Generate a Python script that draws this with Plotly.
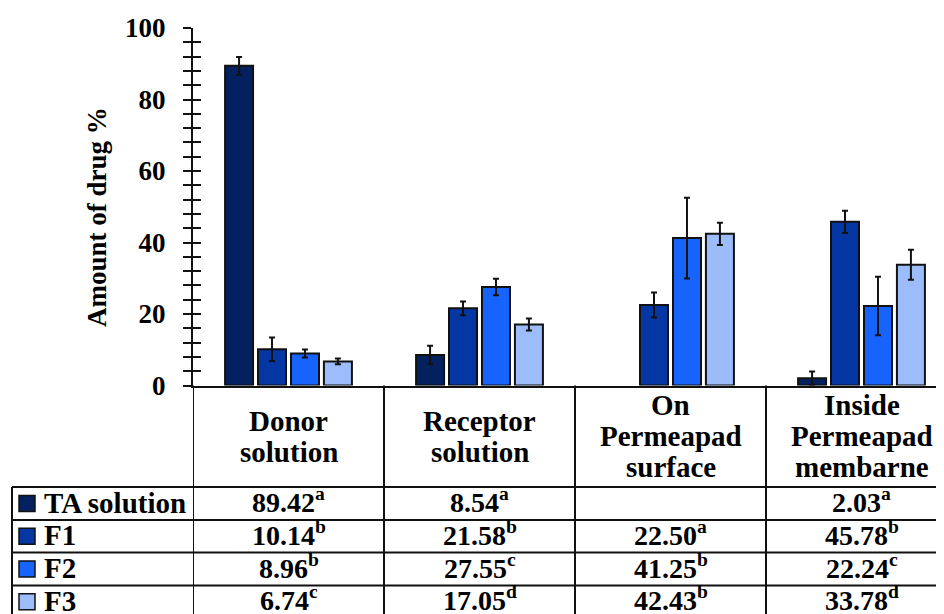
import plotly.graph_objects as go

# ---------------- data ----------------
categories = ["Donor solution", "Receptor solution", "On Permeapad surface", "Inside Permeapad membarne"]
header_lines = [["Donor", "solution"], ["Receptor", "solution"],
                ["On", "Permeapad", "surface"], ["Inside", "Permeapad", "membarne"]]
series_names = ["TA solution", "F1", "F2", "F3"]

ta_values = [89.42, 8.54, None, 2.03]
f1_values = [10.14, 21.58, 22.50, 45.78]
f2_values = [8.96, 27.55, 41.25, 22.24]
f3_values = [6.74, 17.05, 42.43, 33.78]

ta_err = [2.5, 2.6, 0, 1.9]
f1_err = [3.3, 1.9, 3.5, 3.1]
f2_err = [1.1, 2.3, 11.3, 8.2]
f3_err = [0.8, 1.7, 3.1, 4.2]

ta_letters = ["a", "a", "", "a"]
f1_letters = ["b", "b", "a", "b"]
f2_letters = ["b", "c", "b", "c"]
f3_letters = ["c", "d", "b", "d"]

colors = ["#03205f", "#0436a4", "#1764fd", "#9dbcfc"]

y_ticks = [0, 20, 40, 60, 80, 100]

# ---------------- layout constants ----------------
OFF = 8                      # page body margin of the html page
W, H = 944 - OFF, 614 - OFF
FONT = "Liberation Serif, Times New Roman, serif"

def px_x(p):
    return (p - OFF) / W

def px_y(p):
    return 1 - (p - OFF) / H

x_left = 193
x_domain = [px_x(x_left), 1.0]
cat_w = 191.0
x_range = [-0.5, -0.5 + (944 - x_left) / cat_w]
y_domain = [px_y(385.5), px_y(28)]

series_vals = [ta_values, f1_values, f2_values, f3_values]
series_errs = [ta_err, f1_err, f2_err, f3_err]
series_lets = [ta_letters, f1_letters, f2_letters, f3_letters]

fig = go.Figure()
xs = list(range(len(categories)))
for name, vals, errs, col in zip(series_names, series_vals, series_errs, colors):
    fig.add_trace(go.Bar(
        x=xs, y=vals, name=name,
        marker=dict(color=col, line=dict(color="#111111", width=2)),
        error_y=dict(type="data", array=errs, visible=True,
                     color="#111111", thickness=2, width=3),
        showlegend=False,
    ))

# invisible trace anchoring a second y axis that draws the inside half of the ticks
fig.add_trace(go.Scatter(x=[0], y=[0], yaxis="y2", mode="markers",
                         marker=dict(opacity=0), showlegend=False, hoverinfo="skip"))

def bfont(size):
    return dict(family=FONT, size=size, color="black", weight="bold")

tickfont = bfont(27)
header_font = bfont(29)
legend_font = bfont(29)
cell_font = bfont(28)

fig.update_layout(
    width=W, height=H,
    margin=dict(l=0, r=0, t=0, b=0, autoexpand=False),
    paper_bgcolor="white", plot_bgcolor="white",
    font=dict(family=FONT),
    barmode="group", bargap=0.31, bargroupgap=0.15,
    xaxis=dict(domain=x_domain, range=x_range, showticklabels=False, ticks="",
               showgrid=False, zeroline=False, showline=True, automargin=False,
               linecolor="#111111", linewidth=2, fixedrange=True),
    yaxis=dict(domain=y_domain, range=[0, 100], tickvals=y_ticks,
               ticks="outside", ticklen=8, tickwidth=2, tickcolor="#111111",
               minor=dict(dtick=4, ticks="outside", ticklen=8, tickwidth=2, tickcolor="#111111"),
               showgrid=False, zeroline=False, showline=True, automargin=False,
               linecolor="#111111", linewidth=2, tickfont=tickfont,
               ticklabelstandoff=12, anchor="x"),
    yaxis2=dict(domain=y_domain, range=[0, 100], overlaying="y", anchor="x",
                side="left", tickvals=y_ticks, showticklabels=False, automargin=False,
                ticks="inside", ticklen=8, tickwidth=2, tickcolor="#111111",
                minor=dict(dtick=4, ticks="inside", ticklen=8, tickwidth=2, tickcolor="#111111"),
                showgrid=False, zeroline=False, showline=False),
)

annotations = []
shapes = []
line = dict(color="#111111", width=2)

# y-axis title
annotations.append(dict(text="Amount of drug %", xref="paper", yref="paper",
                        x=px_x(97), y=px_y(217), textangle=-90, showarrow=False,
                        font=tickfont, xanchor="center", yanchor="middle"))

# table geometry (pixels in the 944x614 picture)
header_top = 385.5
row_lines = [487, 520, 552.5, 585.5, 618]
row_centers = [(row_lines[i] + row_lines[i + 1]) / 2 for i in range(4)]
legend_left = 12

# vertical lines at category boundaries
for b in [-0.5, 0.5, 1.5, 2.5, 3.5]:
    shapes.append(dict(type="line", xref="x", yref="paper", x0=b, x1=b,
                       y0=px_y(header_top), y1=px_y(625), line=line))
# legend column left border
shapes.append(dict(type="line", xref="paper", yref="paper", x0=px_x(legend_left), x1=px_x(legend_left),
                   y0=px_y(row_lines[0]), y1=px_y(625), line=line))
# horizontal row lines
for r in row_lines:
    shapes.append(dict(type="line", xref="paper", yref="paper", x0=px_x(legend_left), x1=1.0,
                       y0=px_y(r), y1=px_y(r), line=line))

# header text (category names)
for ci, lines in enumerate(header_lines):
    n = len(lines)
    center = (header_top + row_lines[0]) / 2
    for li, t in enumerate(lines):
        yp = center + (li - (n - 1) / 2) * 31
        annotations.append(dict(text=t, xref="x", yref="paper", x=ci, y=px_y(yp),
                                showarrow=False, font=header_font,
                                xanchor="center", yanchor="middle"))

# legend column + data cells
for ri, (name, vals, lets, col) in enumerate(zip(series_names, series_vals, series_lets, colors)):
    yc = row_centers[ri]
    shapes.append(dict(type="rect", xref="paper", yref="paper",
                       x0=px_x(19), x1=px_x(35), y0=px_y(yc + 8), y1=px_y(yc - 8),
                       fillcolor=col, line=dict(color="#111111", width=1.5)))
    annotations.append(dict(text=name, xref="paper", yref="paper", x=px_x(42), y=px_y(yc - 1),
                            showarrow=False, font=legend_font, xanchor="left", yanchor="middle"))
    for ci, (v, l) in enumerate(zip(vals, lets)):
        if v is None:
            continue
        txt = f"{v:.2f}<sup>{l}</sup>"
        annotations.append(dict(text=txt, xref="x", yref="paper", x=ci, y=px_y(yc - 3),
                                showarrow=False, font=cell_font,
                                xanchor="center", yanchor="middle"))

fig.update_layout(annotations=annotations, shapes=shapes)
fig.write_html("out.html")
